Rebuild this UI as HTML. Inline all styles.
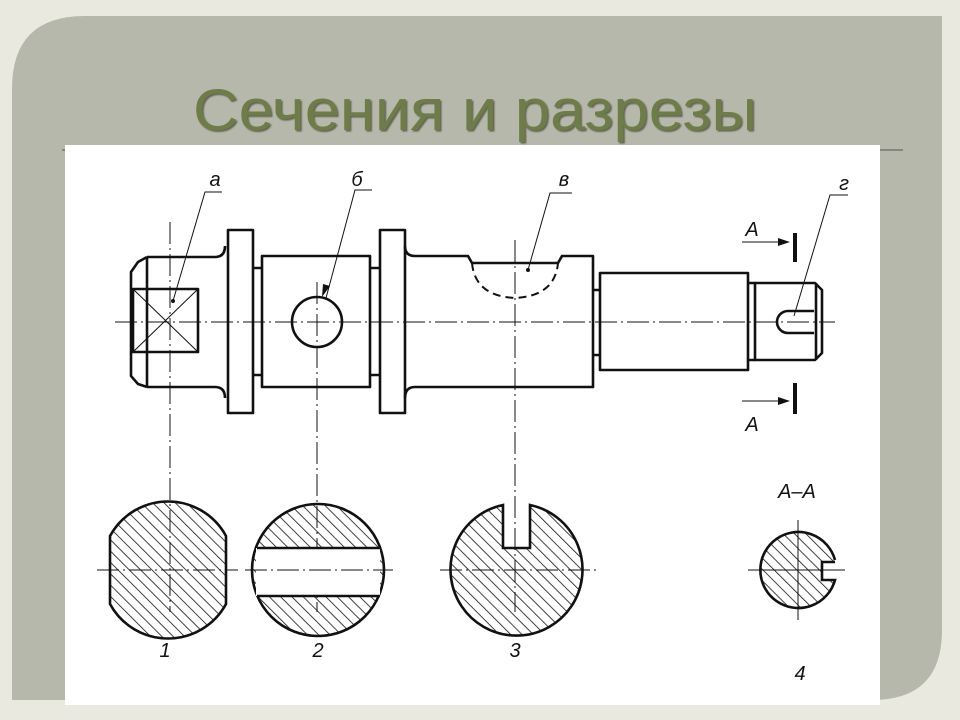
<!DOCTYPE html>
<html><head><meta charset="utf-8"><style>
html,body{margin:0;padding:0;width:960px;height:720px;overflow:hidden;background:#e9e9e0;}
svg{display:block}
</style></head><body>
<svg width="960" height="720" viewBox="0 0 960 720" xmlns="http://www.w3.org/2000/svg">
<defs>
<pattern id="h" patternUnits="userSpaceOnUse" width="8" height="8" patternTransform="rotate(-45)">
<line x1="0" y1="0" x2="0" y2="8" stroke="#111" stroke-width="1.6"/>
</pattern>
<filter id="sh"><feDropShadow dx="1.5" dy="1.5" stdDeviation="0.8" flood-color="#3a4028" flood-opacity="0.7"/></filter>
</defs>
<rect width="960" height="720" fill="#e9e9e0"/>
<path d="M85 16 H942 V630 Q942 700 872 700 H12 V89 Q12 16 85 16 Z" fill="#b6b8ab"/>
<text x="475" y="130" text-anchor="middle" font-family="Liberation Sans, sans-serif" font-size="58" fill="#6e7c48" textLength="564" lengthAdjust="spacingAndGlyphs" filter="url(#sh)">Сечения и разрезы</text>
<line x1="62" y1="150" x2="903" y2="150" stroke="#555" stroke-width="1"/>
<rect x="65" y="145" width="815" height="560" fill="#fff"/>

<g fill="none" stroke="#111" stroke-width="2.6" stroke-linejoin="round">
<path d="M147 257 L138 262 L131 272 V376 L138 384 L147 387"/>
<path d="M147 257 H215 Q225 257 225 246 M147 387 H215 Q225 387 225 398"/>
<line x1="147" y1="257" x2="147" y2="387"/>
<rect x="133" y="289" width="65" height="63"/>
<rect x="228" y="230" width="25" height="183"/>
<path d="M253 268 H262 M253 375 H262"/>
<rect x="262" y="256" width="108" height="131"/>
<circle cx="317" cy="322" r="25"/>
<path d="M370 268 H380 M370 375 H380"/>
<rect x="380" y="230" width="25" height="183"/>
<path d="M405 246 Q405 256 415 256 H468 L472 263 H558 L562 256 H593 V387 H415 Q405 387 405 398"/>
<path d="M593 290 H600 M593 355 H600"/>
<rect x="600" y="273" width="148" height="97"/>
<path d="M748 283 H755 M748 360 H755"/>
<path d="M755 283 H815 L822 290 V353 L815 360 H755 Z"/>
<line x1="816" y1="283" x2="816" y2="360"/>
<path d="M814 311 H788 A11 11 0 0 0 788 333 H814"/>
</g>
<g stroke="#111" stroke-width="1" fill="none">
<path d="M133 289 L198 352 M198 289 L133 352"/>
<path d="M472 263 Q475 296 515 298 Q555 296 558 263" stroke-width="2" stroke-dasharray="8 5"/>
<line x1="115" y1="322" x2="835" y2="322" stroke-dasharray="22 4 2 4"/>
<line x1="170" y1="222" x2="170" y2="612" stroke-dasharray="22 4 2 4"/>
<line x1="317" y1="282" x2="317" y2="612" stroke-dasharray="22 4 2 4"/>
<line x1="515" y1="240" x2="515" y2="612" stroke-dasharray="22 4 2 4"/>
<path d="M173 301 L205 192 H222"/>
<path d="M326 298 L355 190 H372"/>
<path d="M528 270 L550 193 H572"/>
<path d="M794 316 L830 195 H848"/>
<path d="M742 242 H784 M742 401 H784"/>
</g>
<polygon points="322,297 323,284 330,286" fill="#111"/>
<circle cx="173" cy="301" r="2" fill="#111"/><circle cx="528" cy="270" r="2" fill="#111"/>
<polygon points="790,242 778,238 778,246" fill="#111"/>
<polygon points="790,401 778,397 778,405" fill="#111"/>
<rect x="793" y="233" width="4" height="29" fill="#111"/>
<rect x="793" y="383" width="4" height="31" fill="#111"/>

<g font-family="Liberation Sans, sans-serif" font-style="italic" font-size="20" fill="#111" text-anchor="middle">
<text x="215" y="186">а</text><text x="357" y="186">б</text><text x="564" y="186">в</text><text x="844" y="190">г</text>
<text x="752" y="236">А</text><text x="752" y="431">А</text>
<text x="797" y="498">А–А</text>
<text x="165" y="657">1</text><text x="318" y="657">2</text><text x="515" y="657">3</text><text x="800" y="680">4</text>
</g>

<g stroke="#111" stroke-width="2.6">
<path d="M110 536 A66 66 0 0 1 226 536 V604 A66 66 0 0 1 110 604 Z" fill="url(#h)"/>
<circle cx="318" cy="570" r="66" fill="url(#h)"/>
<rect x="256" y="548" width="124" height="48" fill="#fff" stroke="none"/>
<path d="M257 548 H380 M257 596 H380" fill="none"/>
<path d="M503 505 A66 66 0 1 0 530 505 V548 H503 Z" fill="url(#h)"/>
<path d="M835 560 A38 38 0 1 0 835 580 H822 V562 H835" fill="url(#h)"/>
</g>
<g stroke="#111" stroke-width="1" fill="none" stroke-dasharray="22 4 2 4">
<line x1="97" y1="570" x2="238" y2="570"/><line x1="245" y1="570" x2="393" y2="570"/>
<line x1="440" y1="570" x2="598" y2="570"/>
<line x1="748" y1="570" x2="845" y2="570" stroke-dasharray="none"/>
<line x1="798" y1="520" x2="798" y2="620" stroke-dasharray="none"/>
</g>
</svg>
</body></html>
